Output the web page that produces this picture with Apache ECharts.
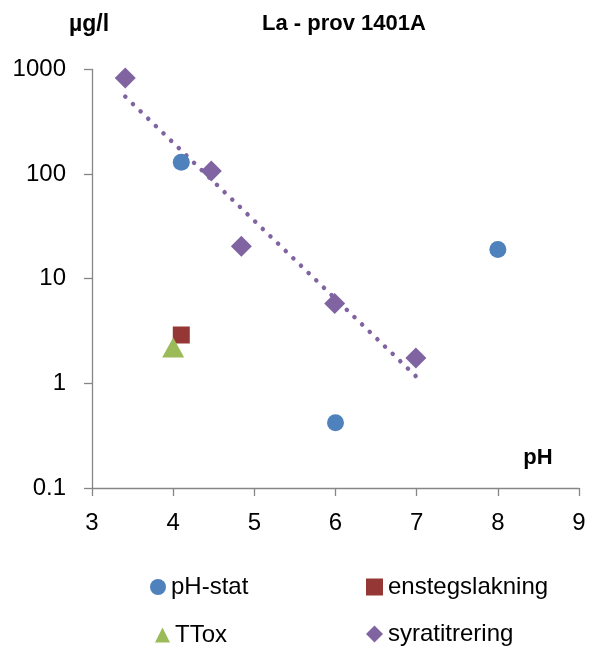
<!DOCTYPE html>
<html>
<head>
<meta charset="utf-8">
<script src="https://cdn.jsdelivr.net/npm/echarts@6/dist/echarts.min.js"></script>
<style>
  html, body { margin: 0; padding: 0; background: #ffffff; }
  #chart { width: 592px; height: 648px; }
</style>
</head>
<body>
<div id="chart"></div>
<script>
// Lanthanum leaching results (µg/l) versus pH for sample 1401A
const phStatPH = [4.1, 6.0, 8.0];
const phStatLa = [130, 0.42, 19];

const enstegPH = [4.1];
const enstegLa = [2.9];

const ttoxPH = [4.0];
const ttoxLa = [2.2];

const syraPH = [3.41, 4.47, 4.84, 5.99, 6.99];
const syraLa = [830, 107, 20.5, 5.8, 1.75];

// exponential trend line over the acid titration points (end points)
const trendPH = [3.41, 6.99];
const trendLa = [550, 1.17];

const yTickLabels = ['0.1', '1', '10', '100', '1000'];
const xTickLabels = ['3', '4', '5', '6', '7', '8', '9'];

const seriesNames = ['pH-stat', 'enstegslakning', 'TTox', 'syratitrering'];
const colors = ['#4F81BD', '#953735', '#9BBB59', '#8064A2'];

const pairs = (xs, ys) => xs.map((x, i) => [x, ys[i]]);

const FONT = '"Liberation Sans", Arial, sans-serif';
const axisGrey = '#868686';

const chart = echarts.init(document.getElementById('chart'), null, { renderer: 'canvas' });

const legendText = { fontFamily: FONT, fontSize: 24, color: '#000000' };

function legendFor(name, icon, left, top, w, h) {
  return {
    data: [{ name: name, icon: icon }],
    left: left, top: top,
    itemWidth: w, itemHeight: h,
    padding: 0,
    itemGap: 0,
    selectedMode: false,
    itemStyle: { opacity: 1 },
    textStyle: legendText
  };
}

chart.setOption({
  animation: false,
  backgroundColor: '#ffffff',
  grid: { left: 92, right: 13, top: 69.5, bottom: 160, containLabel: false },
  xAxis: {
    type: 'value',
    min: 3, max: 9, interval: 1,
    axisLine: { show: true, onZero: false, lineStyle: { color: axisGrey, width: 1.3 } },
    axisTick: { show: true, inside: false, length: 8, lineStyle: { color: axisGrey, width: 1.3 } },
    splitLine: { show: false },
    axisLabel: {
      margin: 23,
      fontFamily: FONT, fontSize: 24, color: '#000000',
      formatter: v => xTickLabels[Math.round(v - 3)] ?? ''
    }
  },
  yAxis: {
    type: 'log',
    logBase: 10,
    min: 0.1, max: 1000,
    axisLine: { show: true, lineStyle: { color: axisGrey, width: 1.3 } },
    axisTick: { show: true, inside: false, length: 8, lineStyle: { color: axisGrey, width: 1.3 } },
    splitLine: { show: false },
    minorTick: { show: false },
    axisLabel: {
      margin: 26,
      fontFamily: FONT, fontSize: 24, color: '#000000',
      formatter: v => yTickLabels[Math.round(Math.log10(v)) + 1] ?? ''
    }
  },
  legend: [
    legendFor(seriesNames[0], 'circle', 150, 575, 16, 16),
    legendFor(seriesNames[1], 'rect', 366, 575, 17, 17),
    legendFor(seriesNames[2], 'triangle', 155, 623, 15, 15),
    legendFor(seriesNames[3], 'diamond', 366, 622, 17, 17)
  ],
  graphic: [
    { type: 'text', x: 344, y: 24,
      style: { text: 'La - prov 1401A', font: 'bold 22px ' + FONT, fill: '#000000',
               textAlign: 'center', textVerticalAlign: 'middle' } },
    { type: 'text', x: 89, y: 25,
      style: { text: 'µg/l', font: 'bold 23px ' + FONT, fill: '#000000',
               textAlign: 'center', textVerticalAlign: 'middle' } },
    { type: 'text', x: 538, y: 458,
      style: { text: 'pH', font: 'bold 22px ' + FONT, fill: '#000000',
               textAlign: 'center', textVerticalAlign: 'middle' } }
  ],
  series: [
    {
      name: 'trend',
      type: 'line',
      data: pairs(trendPH, trendLa),
      symbol: 'none',
      silent: true,
      z: 1,
      lineStyle: { color: colors[3], width: 4.5, type: [0.1, 10.5], cap: 'round', opacity: 1 }
    },
    {
      name: seriesNames[0], type: 'scatter', z: 3,
      data: pairs(phStatPH, phStatLa),
      symbol: 'circle', symbolSize: 17,
      itemStyle: { color: colors[0], opacity: 1 }
    },
    {
      name: seriesNames[1], type: 'scatter', z: 3,
      data: pairs(enstegPH, enstegLa),
      symbol: 'rect', symbolSize: 17,
      itemStyle: { color: colors[1], opacity: 1 }
    },
    {
      name: seriesNames[2], type: 'scatter', z: 4,
      data: pairs(ttoxPH, ttoxLa),
      symbol: 'triangle', symbolSize: [22, 20],
      itemStyle: { color: colors[2], opacity: 1 }
    },
    {
      name: seriesNames[3], type: 'scatter', z: 4,
      data: pairs(syraPH, syraLa),
      symbol: 'diamond', symbolSize: 21,
      itemStyle: { color: colors[3], opacity: 1 }
    }
  ]
});
</script>
</body>
</html>
